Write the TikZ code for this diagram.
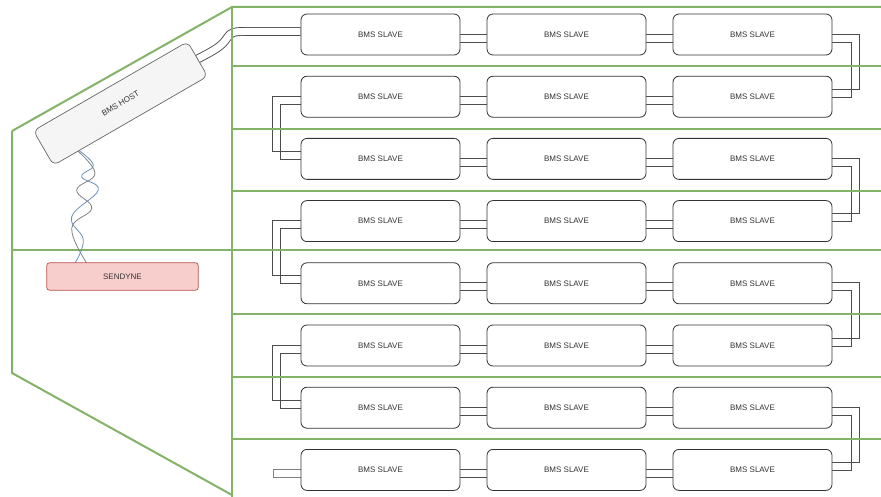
\documentclass[tikz,border=0pt]{standalone}
\usepackage{fontspec}
\setmainfont{Liberation Sans}
\definecolor{zonegreen}{HTML}{82B366}
\definecolor{hostfill}{HTML}{F5F5F5}
\definecolor{hostdraw}{HTML}{666666}
\definecolor{sendfill}{HTML}{F8CECC}
\definecolor{senddraw}{HTML}{B85450}
\definecolor{wireblue}{HTML}{6C8EBF}
\definecolor{wiregray}{HTML}{808080}
\definecolor{txt}{HTML}{333333}
\pgfdeclarelayer{background}
\pgfsetlayers{background,main}
\begin{document}
\begin{tikzpicture}[x=1pt,y=-1pt,
  slave/.style={draw=txt, fill=white, rounded corners=6pt, minimum width=159pt,
    minimum height=41pt, inner sep=0pt, font=\fontsize{8}{9}\selectfont, text=txt, line width=0.8pt},
  wl/.style={draw=black!70, line width=0.9pt},
  link/.style={draw=black!70, double=white, double distance=7pt, line width=0.9pt},
  zone/.style={draw=zonegreen, line width=2pt},
  wire/.style={line width=0.8pt},
]
\useasboundingbox (0,0) rectangle (881,497);

% slave boxes
\foreach \r in {1,...,8}{
  \foreach \c/\x in {1/380.5,2/566.5,3/752.5}{
    \node[slave] (s\r\c) at (\x,{34.5+62.2*(\r-1)}) {BMS SLAVE};
  }
}

% host and sendyne
\node[draw=hostdraw, fill=hostfill, rounded corners=6pt, minimum width=178pt,
  minimum height=40pt, inner sep=0pt, rotate=30, font=\fontsize{8}{9}\selectfont, text=txt,
  line width=0.7pt] (host) at (120.5,103.5) {BMS HOST};
\node[draw=senddraw, fill=sendfill, rounded corners=3pt, minimum width=151.6pt,
  minimum height=27.6pt, inner sep=0pt, font=\fontsize{8}{9}\selectfont, text=txt,
  line width=0.7pt] (sendyne) at (122.5,276.5) {SENDYNE};

\begin{pgfonlayer}{background}
  % links within rows (two parallel lines each)
  \foreach \r in {1,...,8}{
    \foreach \p/\q in {1/2,2/3}{
      \draw[wl] ([yshift=0.5pt]s\r\p.east) -- ([yshift=0.5pt]s\r\q.west);
      \draw[wl] ([yshift=-7.5pt]s\r\p.east) -- ([yshift=-7.5pt]s\r\q.west);
    }
  }
  % right U-turns
  \foreach \a/\b in {1/2,3/4,5/6,7/8}{
    \draw[wl] ([yshift=0.5pt]s\a3.east) -- ++(27.5,0) |- ([yshift=7.5pt]s\b3.east);
    \draw[wl] ([yshift=-7.5pt]s\a3.east) -- ++(19.5,0) |- ([yshift=-0.5pt]s\b3.east);
  }
  % left U-turns
  \foreach \a/\b in {2/3,4/5,6/7}{
    \draw[wl] ([yshift=0.5pt]s\a1.west) -- ++(-28,0) |- ([yshift=7.5pt]s\b1.west);
    \draw[wl] ([yshift=-7.5pt]s\a1.west) -- ++(-20,0) |- ([yshift=-0.5pt]s\b1.west);
  }
  % stub at last row
  \draw[draw=black!50, fill=white, line width=0.8pt]
    ([yshift=0.5pt]s81.west) -- ++(-27,0) |- ([yshift=-7.5pt]s81.west);
  % host link
  \draw[link] (host.east) .. controls (215,50) and (222,46) .. (227,38)
     .. controls (231,32) and (234,31.5) .. (245,31.5) -- ([yshift=3pt]s11.west);

  % green zones
  \draw[zone] (12,131) -- (232,7) -- (881,7);
  \draw[zone] (12,131) -- (12,373) -- (232,495);
  \draw[zone] (232,7) -- (232,497);
  \draw[zone] (12,250) -- (881,250);
  \foreach \y in {66,129,191,314,377,439}{
    \draw[zone] (232,\y) -- (881,\y);
  }

  % twisted pair
  \draw[wire, wiregray] plot[smooth, tension=0.7] coordinates
    {(76.7,150) (95,173.3) (76.7,190) (91.7,208.3) (71.7,228.3) (86.7,263)};
  \draw[wire, wireblue] plot[smooth, tension=0.7] coordinates
    {(78.3,150) (93.3,165) (81.7,176.7) (98.3,190) (71.7,216.7) (83.3,240) (75,263)};
\end{pgfonlayer}
\end{tikzpicture}
\end{document}
